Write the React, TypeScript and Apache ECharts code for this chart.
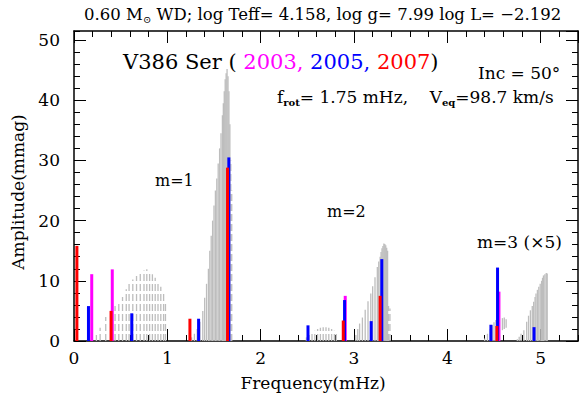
import React, { useEffect, useRef } from "react";
import * as echarts from "echarts";

const FONT = '"DejaVu Serif", serif';
const GRAY = "#bdbdbd";
const MAGENTA = "#ff00ff";
const BLUE = "#0000ff";
const RED = "#ff0000";

// Model spectrum, [frequency (mHz), amplitude (mmag)]
const modelM1Low = [
  [0.24, 1.0], [0.28, 2.2], [0.34, 4.0], [0.44, 5.8], [0.48, 6.6], [0.52, 7.3],
  [0.56, 8.6], [0.59, 9.5], [0.63, 10.2], [0.67, 10.8], [0.71, 11.3], [0.75, 11.7],
  [0.78, 11.9], [0.81, 11.6], [0.84, 11.1], [0.87, 10.5], [0.9, 9.9], [0.93, 9.0],
  [0.96, 7.8], [0.98, 6.5],
];
const modelM1 = [
  [1.26, 0.6], [1.29, 1.2], [1.32, 2.0], [1.35, 3.2], [1.38, 5.0], [1.4, 7.2],
  [1.42, 9.5], [1.44, 12.0], [1.455, 15.0], [1.47, 17.5], [1.485, 20.0], [1.5, 22.5],
  [1.515, 25.0], [1.53, 27.0], [1.545, 29.5], [1.56, 32.0], [1.575, 34.5], [1.59, 37.5],
  [1.6, 39.5], [1.61, 41.5], [1.62, 43.5], [1.63, 44.5], [1.64, 45.2], [1.65, 44.0],
  [1.66, 41.5], [1.67, 36.0],
];
const modelM1Edge = [[1.68, 30.0], [1.69, 25.0]];
const modelM2Low = [
  [2.49, 0.6], [2.52, 1.0], [2.55, 1.4], [2.58, 1.7], [2.61, 2.0], [2.64, 2.2],
  [2.67, 2.3], [2.7, 2.3], [2.73, 2.2], [2.76, 2.0], [2.79, 1.7], [2.81, 1.4],
];
const modelM2 = [
  [3.02, 1.0], [3.04, 2.0], [3.06, 2.9], [3.09, 3.9], [3.12, 5.2], [3.15, 6.6],
  [3.18, 7.9], [3.2, 9.1], [3.225, 10.6], [3.25, 12.3], [3.265, 13.2], [3.28, 14.0],
  [3.29, 14.8], [3.3, 15.4], [3.31, 15.8], [3.32, 16.2], [3.33, 16.1], [3.34, 15.9],
  [3.35, 15.5], [3.36, 15.0],
];
const modelM2Edge = [[3.37, 5.8], [3.385, 5.4]];
const modelM3Low = [
  [4.4, 0.4], [4.43, 1.2], [4.46, 2.0], [4.48, 2.6], [4.5, 3.1], [4.52, 3.5], [4.54, 3.7],
];
// [frequency, lower amplitude, upper amplitude]
const modelM3Float = [[4.59, 1.8, 3.8], [4.61, 2.0, 3.9], [4.63, 2.2, 3.6]];
const modelM3 = [
  [4.75, 0.3], [4.77, 0.7], [4.79, 1.2], [4.82, 1.8], [4.85, 3.2], [4.87, 4.2],
  [4.89, 5.1], [4.91, 5.8], [4.925, 6.5], [4.94, 7.3], [4.95, 7.9], [4.965, 8.5],
  [4.98, 9.0], [4.995, 9.5], [5.01, 10.0], [5.02, 10.5], [5.03, 10.9], [5.045, 11.1],
  [5.06, 11.3], [5.07, 11.2],
];

// Observed amplitudes per season
const obs2003 = [[0.19, 11.1], [0.41, 11.9], [2.906, 7.5], [4.553, 8.2]];
const obs2005 = [
  [0.155, 5.8], [0.619, 4.6], [1.335, 3.7], [1.659, 30.5], [2.507, 2.6], [2.899, 6.8],
  [3.184, 3.3], [3.298, 13.6], [4.467, 2.7], [4.538, 12.2], [4.929, 2.3],
];
const obs2007 = [
  [0.031, 15.8], [0.397, 5.0], [1.242, 3.7], [1.645, 28.8], [2.885, 3.4], [3.28, 7.5],
  [4.531, 2.5],
];

const X_MIN = 0;
const X_MAX = 5.4;
const Y_MIN = 0;
const Y_MAX = 51.5;

function sticks(data: number[][], color: string, width: number, dash: number[] | null, z: number) {
  const ranged = data[0].length > 2;
  return {
    type: "custom",
    silent: true,
    xAxisIndex: 0,
    yAxisIndex: 0,
    z,
    data,
    encode: { x: 0, y: ranged ? [1, 2] : 1 },
    renderItem: (_params: any, api: any) => {
      const f = api.value(0);
      const lo = ranged ? api.value(1) : 0;
      const hi = ranged ? api.value(2) : api.value(1);
      const p0 = api.coord([f, lo]);
      const p1 = api.coord([f, hi]);
      return {
        type: "line",
        shape: { x1: p0[0], y1: p0[1], x2: p1[0], y2: p1[1] },
        style: { stroke: color, lineWidth: width, lineDash: dash, fill: null },
      };
    },
  };
}

function axis(dim: "x" | "y", position: string, interval: number, tickLen: number, main: boolean, labels: boolean) {
  return {
    type: "value",
    position,
    min: dim === "x" ? X_MIN : Y_MIN,
    max: dim === "x" ? X_MAX : Y_MAX,
    interval,
    axisLine: { show: main, onZero: false, lineStyle: { color: "#000", width: 1.5 } },
    axisTick: { show: true, inside: true, length: tickLen, lineStyle: { color: "#000", width: 1 } },
    minorTick: { show: false },
    splitLine: { show: false },
    minorSplitLine: { show: false },
    axisLabel: {
      show: labels,
      showMaxLabel: false,
      color: "#000",
      fontFamily: FONT,
      fontSize: 17,
      margin: dim === "x" ? 8 : 14,
    },
  };
}

function text(x: number, y: number, content: string, fontSize: number, extra: any = {}) {
  return {
    type: "text",
    x,
    y,
    z: 100,
    silent: true,
    style: {
      text: content,
      fontFamily: FONT,
      fontSize,
      fill: "#000",
      align: "left",
      verticalAlign: "middle",
      textAlign: "left",
      textVerticalAlign: "middle",
      ...extra,
    },
  };
}

export default function App() {
  const ref = useRef<HTMLDivElement>(null);

  useEffect(() => {
    document.body.style.margin = "0";
    if (!ref.current) return;
    const chart = echarts.init(ref.current, null, { renderer: "svg" });
    const sub = { fontSize: 10, fontFamily: FONT, verticalAlign: "bottom", lineHeight: 12 };
    const yearStyle = (c: string) => ({ fill: c, color: c, fontSize: 21, fontFamily: FONT });
    chart.setOption({
      animation: false,
      backgroundColor: "#fff",
      grid: { left: 74, right: 1, top: 31, bottom: 60, containLabel: false },
      xAxis: [
        axis("x", "bottom", 1, 12, true, true),
        axis("x", "bottom", 0.2, 6, false, false),
        axis("x", "top", 1, 12, true, false),
        axis("x", "top", 0.2, 6, false, false),
      ],
      yAxis: [
        axis("y", "left", 10, 12, true, true),
        axis("y", "left", 2, 6, false, false),
        axis("y", "right", 10, 12, true, false),
        axis("y", "right", 2, 6, false, false),
      ],
      series: [
        sticks(modelM1Low, GRAY, 1.3, [7, 3], 2),
        sticks(modelM1, GRAY, 1.3, null, 2),
        sticks(modelM1Edge, GRAY, 1.3, [7, 3], 2),
        sticks(modelM2Low, GRAY, 1.3, [7, 3], 2),
        sticks(modelM2, GRAY, 1.3, null, 2),
        sticks(modelM2Edge, GRAY, 1.3, [7, 3], 2),
        sticks(modelM3Low, GRAY, 1.3, null, 2),
        sticks(modelM3Float, GRAY, 1.3, null, 2),
        sticks(modelM3, GRAY, 1.3, null, 2),
        sticks(obs2003, MAGENTA, 3, null, 3),
        sticks(obs2005, BLUE, 3, null, 4),
        sticks(obs2007, RED, 3, null, 5),
      ],
      graphic: [
        text(84, 14, "0.60 M{s|⊙} WD; log Teff= 4.158, log g= 7.99 log L= −2.192", 16.5, {
          lineHeight: 20,
          rich: { s: sub },
        }),
        text(123, 62, "V386 Ser ( {m|2003,} {b|2005,} {r|2007})", 21, {
          rich: { m: yearStyle(MAGENTA), b: yearStyle(BLUE), r: yearStyle(RED) },
        }),
        text(478, 73, "Inc = 50°", 17),
        text(277, 97, "f{s|rot}= 1.75 mHz,    V{s|eq}=98.7 km/s", 17, {
          lineHeight: 20,
          rich: { s: { ...sub, fontWeight: "bold" } },
        }),
        text(155, 180, "m=1", 16),
        text(327, 211, "m=2", 16),
        text(477, 242, "m=3 (×5)", 17),
        text(18, 192, "Amplitude(mmag)", 17, { align: "center", textAlign: "center" }),
        text(313, 383, "Frequency(mHz)", 17, { align: "center", textAlign: "center" }),
      ].map((g: any, i: number) => (i === 7 ? { ...g, rotation: Math.PI / 2 } : g)),
    });
    return () => chart.dispose();
  }, []);

  return (
    <div
      ref={ref}
      style={{ position: "fixed", left: 0, top: 0, width: 579, height: 401, background: "#fff" }}
    />
  );
}
